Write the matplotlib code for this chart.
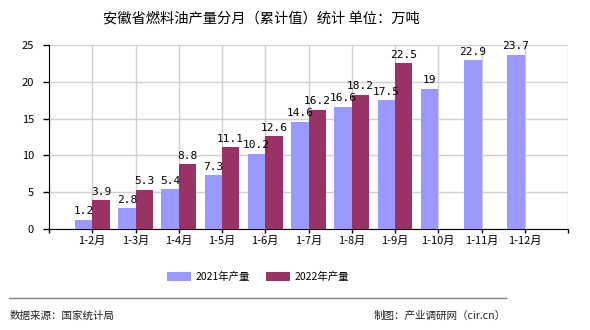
import numpy as np
import matplotlib
matplotlib.use("Agg")
import matplotlib.pyplot as plt

plt.rcParams['font.family'] = ['Noto Sans CJK SC', 'DejaVu Sans']

# data
months = ["1-2月", "1-3月", "1-4月", "1-5月", "1-6月", "1-7月",
          "1-8月", "1-9月", "1-10月", "1-11月", "1-12月"]
output_2021 = [1.2, 2.8, 5.4, 7.3, 10.2, 14.6, 16.6, 17.5, 19, 22.9, 23.7]
output_2022 = [3.9, 5.3, 8.8, 11.1, 12.6, 16.2, 18.2, 22.5]

title = "安徽省燃料油产量分月（累计值）统计 单位：万吨"
source_text = "数据来源：国家统计局"
maker_text = "制图：产业调研网（cir.cn）"

fig = plt.figure(figsize=(5.9, 3.3), dpi=100)
ax = fig.add_axes([49 / 590, 1 - 229 / 330, 519 / 590, 184 / 330])

bw = 0.4
x21 = np.arange(1, len(output_2021) + 1)
x22 = np.arange(1, len(output_2022) + 1)
b1 = ax.bar(x21 - bw / 2, output_2021, width=bw, color='#9999FF', label='2021年产量', zorder=3)
b2 = ax.bar(x22 + bw / 2, output_2022, width=bw, color='#993366', label='2022年产量', zorder=3)

for xi, v in zip(x21, output_2021):
    ax.text(xi - bw / 2, v + 0.5, f"{v:g}", ha='center', va='bottom', fontsize=8,
            family=['DejaVu Sans Mono'], zorder=4)
for xi, v in zip(x22, output_2022):
    ax.text(xi + bw / 2, v + 0.5, f"{v:g}", ha='center', va='bottom', fontsize=8,
            family=['DejaVu Sans Mono'], zorder=4)

ax.set_xlim(0, 12)
ax.set_ylim(0, 25)
ax.set_xticks(np.arange(0, 13))
ax.set_xticklabels([""] + months + [""], fontsize=8)
ax.set_yticks([0, 5, 10, 15, 20, 25])
ax.set_yticklabels(["0", "5", "10", "15", "20", "25"], fontsize=8)
ax.tick_params(axis='both', direction='out', width=1, color='black')
ax.tick_params(axis='x', length=3, pad=2)
ax.tick_params(axis='y', length=4, pad=6.8)
ax.grid(True, color='#d0d0d0', lw=1, zorder=0)
for s in ['top', 'right']:
    ax.spines[s].set_visible(False)
ax.spines['left'].set_color('black')
ax.spines['bottom'].set_color('black')

fig.text(261 / 590, 1 - 18 / 330, title, ha='center', va='center', fontsize=10.3)

fig.legend(handles=[b1, b2], loc='center', bbox_to_anchor=(258 / 590, 1 - 277 / 330),
           ncol=2, frameon=False, fontsize=7.5, handlelength=2.3, handleheight=0.9,
           columnspacing=1.6, handletextpad=0.4)

fig.add_artist(plt.Line2D([9 / 590, 506 / 590], [1 - 298 / 330, 1 - 298 / 330],
                          color='#808080', lw=1))
fig.text(10 / 590, 1 - 316 / 330, source_text, ha='left', va='center', fontsize=7.6, color='#222222')
fig.text(506 / 590, 1 - 316 / 330, maker_text, ha='right', va='center', fontsize=7.6, color='#222222')

fig.savefig("out.png", dpi=100)
